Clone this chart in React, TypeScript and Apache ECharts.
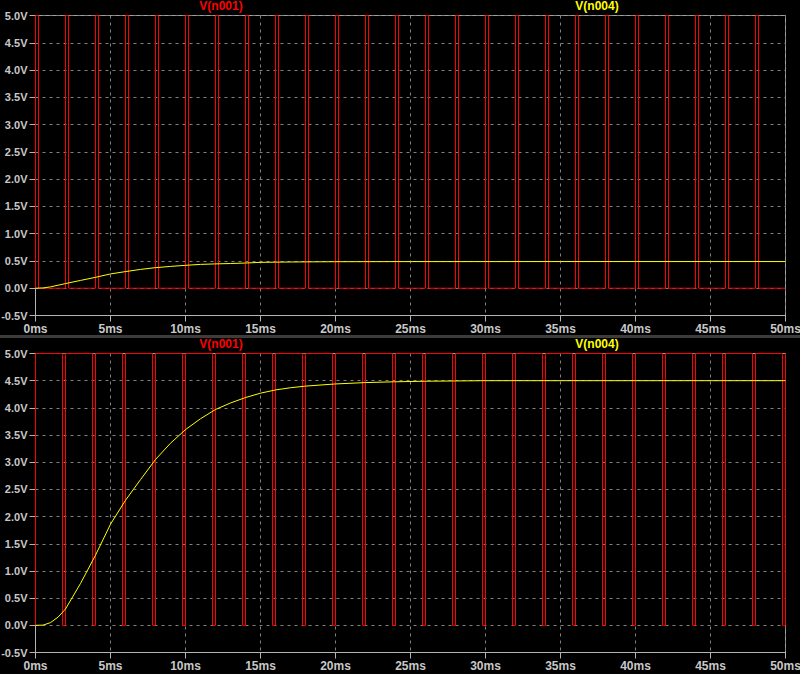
import React, { useEffect, useRef } from "react";
import * as echarts from "echarts";

// Pulse start times (ms) of V(n001), top panel: 10% duty, high 0.2 ms every 2 ms
const topPulseStarts = [0, 2, 4, 6, 8, 10, 12, 14, 16, 18, 20, 22, 24, 26, 28, 30, 32, 34, 36, 38, 40, 42, 44, 46, 48];
const topPulseWidth = 0.2;
// Low-gap start times (ms) of V(n001), bottom panel: 90% duty, low 0.2 ms every 2 ms
const bottomLowStarts = [1.8, 3.8, 5.8, 7.8, 9.8, 11.8, 13.8, 15.8, 17.8, 19.8, 21.8, 23.8, 25.8, 27.8, 29.8, 31.8, 33.8, 35.8, 37.8, 39.8, 41.8, 43.8, 45.8, 47.8, 49.8];
const bottomLowWidth = 0.2;
const pwmHigh = 5;
const pwmLow = 0;

// V(n004) filtered output, top panel
const topFilterTimes = [0, 0.5, 1, 2, 3, 4, 5, 6, 7, 8, 9, 10, 11, 12, 13, 14, 15, 16, 17, 18, 20, 22, 25, 30, 35, 40, 45, 50];
const topFilterValues = [0, 0.005, 0.025, 0.085, 0.143, 0.2, 0.262, 0.305, 0.345, 0.377, 0.4, 0.42, 0.437, 0.446, 0.453, 0.462, 0.474, 0.478, 0.481, 0.483, 0.486, 0.487, 0.488, 0.488, 0.489, 0.489, 0.489, 0.489];

// V(n004) filtered output, bottom panel
const bottomFilterTimes = [0, 0.5, 1, 1.5, 2, 3, 4, 5, 6, 7, 8, 9, 10, 11, 12, 13, 14, 15, 16, 17, 18, 20, 22, 24, 26, 28, 30, 40, 50];
const bottomFilterValues = [0, 0.003, 0.05, 0.15, 0.3, 0.77, 1.29, 1.86, 2.3, 2.68, 3.05, 3.35, 3.6, 3.8, 3.97, 4.09, 4.19, 4.27, 4.33, 4.37, 4.4, 4.44, 4.465, 4.48, 4.49, 4.495, 4.5, 4.5, 4.5];

const xMin = 0;
const xMax = 50;
const xStep = 5;
const yMin = -0.5;
const yMax = 5;
const yStep = 0.5;
const traceNames = ["V(n001)", "V(n004)"];

function buildTopPwm(): number[][] {
  const pts: number[][] = [[xMin, pwmLow]];
  for (const s of topPulseStarts) {
    pts.push([s, pwmLow], [s, pwmHigh], [s + topPulseWidth, pwmHigh], [s + topPulseWidth, pwmLow]);
  }
  pts.push([xMax, pwmLow]);
  return pts;
}

function buildBottomPwm(): number[][] {
  const pts: number[][] = [[xMin, pwmLow], [xMin, pwmHigh]];
  for (const s of bottomLowStarts) {
    pts.push([s, pwmHigh], [s, pwmLow], [s + bottomLowWidth, pwmLow], [s + bottomLowWidth, pwmHigh]);
  }
  return pts;
}

function zip(t: number[], v: number[]): number[][] {
  return t.map((x, i) => [x, v[i]]);
}

const FONT = "Liberation Sans";
const LABEL_COLOR = "#c8c8c8";
const RED = "#ff0000";
const YELLOW = "#ffff00";

export default function App() {
  const ref = useRef<HTMLDivElement>(null);

  useEffect(() => {
    if (!ref.current) return;
    const chart = echarts.init(ref.current, undefined, { renderer: "svg" });

    const mkX = (gridIndex: number) => ({
      type: "value",
      gridIndex,
      min: xMin,
      max: xMax,
      interval: xStep,
      axisLine: { show: true, onZero: false, lineStyle: { color: "#b4b4b4", width: 1 } },
      axisTick: { show: true, length: 6, lineStyle: { color: "#b4b4b4" } },
      axisLabel: {
        margin: 7,
        color: LABEL_COLOR,
        fontFamily: FONT,
        fontWeight: "bold",
        fontSize: 12,
        formatter: (v: number) => `${v}ms`,
      },
      splitLine: { show: true, lineStyle: { color: "#808080", type: [3, 4], width: 1 } },
    });

    const mkY = (gridIndex: number) => ({
      type: "value",
      gridIndex,
      min: yMin,
      max: yMax,
      interval: yStep,
      axisLine: { show: true, onZero: false, lineStyle: { color: "#b4b4b4", width: 1 } },
      axisTick: { show: true, length: 6, lineStyle: { color: "#b4b4b4" } },
      axisLabel: {
        margin: 8,
        color: LABEL_COLOR,
        fontFamily: FONT,
        fontWeight: "bold",
        fontSize: 11,
        formatter: (v: number) => `${v.toFixed(1)}V`,
      },
      splitLine: { show: true, lineStyle: { color: "#808080", type: [3, 4], width: 1 } },
    });

    const lineSeries = (name: string, idx: number, data: number[][], color: string) => ({
      name,
      type: "line",
      xAxisIndex: idx,
      yAxisIndex: idx,
      data,
      showSymbol: false,
      symbol: "none",
      lineStyle: { color, width: 1 },
      emphasis: { disabled: true },
      silent: true,
      clip: true,
    });

    const label = (text: string, x: number, y: number, color: string) => ({
      type: "text",
      x,
      y,
      style: {
        text,
        fill: color,
        font: `bold 12px "${FONT}"`,
        align: "center",
        verticalAlign: "middle",
      },
    });

    const gridBase = {
      left: 35.5,
      right: 14.5,
      show: true,
      borderColor: "#a0a0a0",
      borderWidth: 1,
      backgroundColor: "#000000",
      containLabel: false,
      outerBoundsMode: "none",
    };

    chart.setOption({
      animation: false,
      backgroundColor: "#000000",
      grid: [
        { ...gridBase, top: 15.5, height: 300 },
        { ...gridBase, top: 353.5, height: 299 },
      ],
      xAxis: [mkX(0), mkX(1)],
      yAxis: [mkY(0), mkY(1)],
      series: [
        lineSeries(traceNames[0], 0, buildTopPwm(), RED),
        lineSeries(traceNames[1], 0, zip(topFilterTimes, topFilterValues), YELLOW),
        lineSeries(traceNames[0], 1, buildBottomPwm(), RED),
        lineSeries(traceNames[1], 1, zip(bottomFilterTimes, bottomFilterValues), YELLOW),
      ],
      graphic: [
        { type: "rect", shape: { x: 0, y: 335, width: 800, height: 3 }, style: { fill: "#3c3c3c" }, silent: true },
        label(traceNames[0], 221, 6, RED),
        label(traceNames[1], 597, 6, YELLOW),
        label(traceNames[0], 221, 344, RED),
        label(traceNames[1], 597, 344, YELLOW),
      ],
    });

    return () => chart.dispose();
  }, []);

  return (
    <div
      ref={ref}
      style={{ position: "absolute", left: 0, top: 0, width: 800, height: 674, background: "#000" }}
    />
  );
}
